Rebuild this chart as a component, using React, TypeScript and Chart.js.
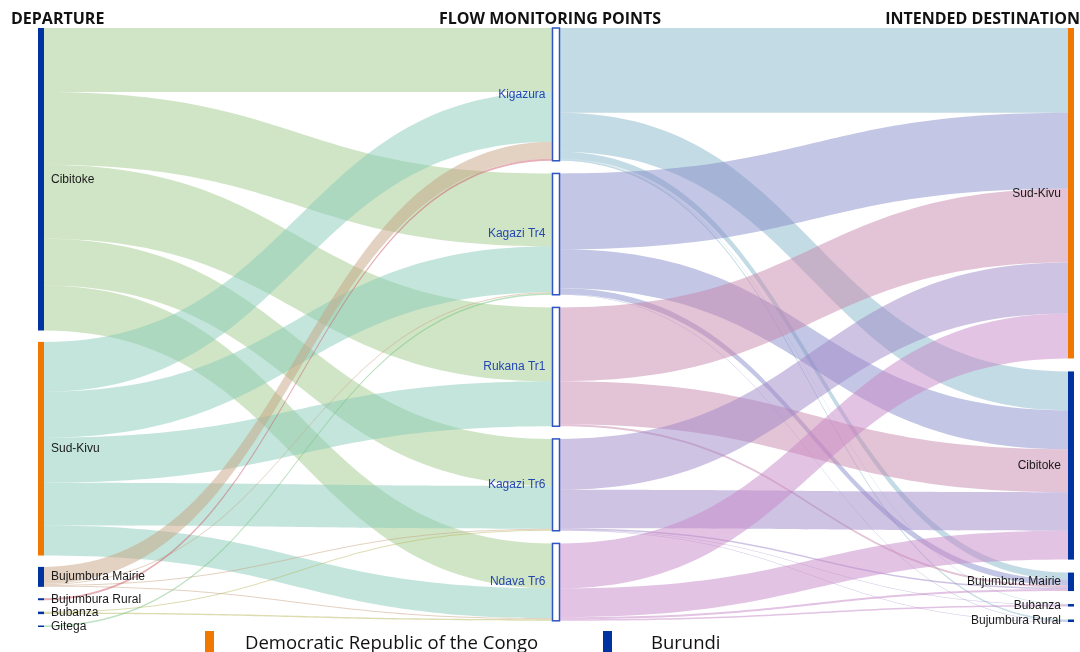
import React, { useEffect, useRef } from "react";
import { Chart, registerables } from "chart.js";

Chart.register(...registerables);

// ---------- DATA ----------
const columnTitles = ["DEPARTURE", "FLOW MONITORING POINTS", "INTENDED DESTINATION"];

const departureNodes = ["Cibitoke", "Sud-Kivu", "Bujumbura Mairie", "Bujumbura Rural", "Bubanza", "Gitega"];
const departureCountry = ["BDI", "COD", "BDI", "BDI", "BDI", "BDI"];

const monitoringPoints = ["Kigazura", "Kagazi Tr4", "Rukana Tr1", "Kagazi Tr6", "Ndava Tr6"];

const destinationNodes = ["Sud-Kivu", "Cibitoke", "Bujumbura Mairie", "Bubanza", "Bujumbura Rural"];
const destinationCountry = ["COD", "BDI", "BDI", "BDI", "BDI"];

// departure -> monitoring point
const inflowFrom = [0, 0, 0, 0, 0, 1, 1, 1, 1, 1, 2, 2, 2, 2, 3, 4, 4, 5];
const inflowTo = [0, 1, 2, 3, 4, 0, 1, 2, 3, 4, 0, 1, 3, 4, 0, 3, 4, 1];
const inflowValue = [64, 73, 74, 47, 45, 50, 46, 45, 43, 30, 17, 1, 1, 1, 2, 1, 1.5, 1.5];

// monitoring point -> destination
const outflowFrom = [0, 0, 0, 0, 0, 1, 1, 1, 1, 2, 2, 2, 3, 3, 3, 3, 3, 4, 4, 4, 4];
const outflowTo = [0, 1, 2, 3, 4, 0, 1, 2, 4, 0, 1, 2, 0, 1, 2, 3, 4, 0, 1, 2, 3];
const outflowValue = [85, 39, 7, 0.5, 1.5, 76, 39, 6, 0.5, 74, 43, 2, 51, 38.5, 1.5, 0.5, 0.5, 45, 29, 2, 1.5];

const legendCodes = ["COD", "BDI"];
const legendLabels = ["Democratic Republic of the Congo", "Burundi"];

// ---------- STYLE ----------
const countryColors: Record<string, string> = { COD: "#f07800", BDI: "#0033a0" };
const departureLinkColors = [
  "rgba(161,203,139,0.5)",
  "rgba(135,203,185,0.5)",
  "rgba(199,163,131,0.5)",
  "rgba(205,95,110,0.5)",
  "rgba(185,185,100,0.5)",
  "rgba(120,195,130,0.5)",
];
const pointLinkColors = [
  "rgba(135,183,201,0.5)",
  "rgba(135,141,201,0.5)",
  "rgba(199,135,173,0.5)",
  "rgba(159,135,201,0.5)",
  "rgba(199,135,199,0.5)",
];
const columnGap = [11.4, 12.7, 13];
const nodeHalfWidth = [3, 3.5, 3];

const sankeyPlugin = {
  id: "sankeyDraw",
  afterDraw(chart: any) {
    const ctx: CanvasRenderingContext2D = chart.ctx;
    const xs = chart.scales.x;
    const ys = chart.scales.y;
    const columns = [departureNodes, monitoringPoints, destinationNodes];
    const linkSets = [
      { from: inflowFrom, to: inflowTo, value: inflowValue, col: 0, colors: departureLinkColors },
      { from: outflowFrom, to: outflowTo, value: outflowValue, col: 1, colors: pointLinkColors },
    ];
    const nodeIn = columns.map((c) => c.map(() => 0));
    const nodeOut = columns.map((c) => c.map(() => 0));
    linkSets.forEach((ls) => {
      ls.value.forEach((v, i) => {
        nodeOut[ls.col][ls.from[i]] += v;
        nodeIn[ls.col + 1][ls.to[i]] += v;
      });
    });
    const nodeVal = columns.map((c, ci) => c.map((_, i) => Math.max(nodeIn[ci][i], nodeOut[ci][i])));
    const nodeTop = columns.map((c, ci) => {
      let acc = 0;
      return c.map((_, i) => {
        const t = acc;
        acc += nodeVal[ci][i] + columnGap[ci];
        return t;
      });
    });
    const xc = columns.map((_, ci) => xs.getPixelForValue(ci));

    // links
    linkSets.forEach((ls) => {
      const n = ls.value.length;
      const idx = Array.from({ length: n }, (_, i) => i);
      const srcOff: number[] = new Array(n).fill(0);
      const tgtOff: number[] = new Array(n).fill(0);
      const srcAcc: Record<number, number> = {};
      [...idx].sort((a, b) => ls.from[a] - ls.from[b] || ls.to[a] - ls.to[b]).forEach((i) => {
        const s = ls.from[i];
        srcAcc[s] = srcAcc[s] || 0;
        srcOff[i] = srcAcc[s];
        srcAcc[s] += ls.value[i];
      });
      const tgtAcc: Record<number, number> = {};
      [...idx].sort((a, b) => ls.to[a] - ls.to[b] || ls.from[a] - ls.from[b]).forEach((i) => {
        const t = ls.to[i];
        tgtAcc[t] = tgtAcc[t] || 0;
        tgtOff[i] = tgtAcc[t];
        tgtAcc[t] += ls.value[i];
      });
      const c0 = ls.col;
      const c1 = ls.col + 1;
      const x0 = xc[c0] + nodeHalfWidth[c0];
      const x1 = xc[c1] - nodeHalfWidth[c1];
      const xm = (x0 + x1) / 2;
      idx.forEach((i) => {
        const s0 = nodeTop[c0][ls.from[i]] + srcOff[i];
        const t0 = nodeTop[c1][ls.to[i]] + tgtOff[i];
        const v = ls.value[i];
        const ys0 = ys.getPixelForValue(s0);
        const ys1 = ys.getPixelForValue(s0 + v);
        const yt0 = ys.getPixelForValue(t0);
        const yt1 = ys.getPixelForValue(t0 + v);
        ctx.beginPath();
        ctx.moveTo(x0, ys0);
        ctx.bezierCurveTo(xm, ys0, xm, yt0, x1, yt0);
        ctx.lineTo(x1, yt1);
        ctx.bezierCurveTo(xm, yt1, xm, ys1, x0, ys1);
        ctx.closePath();
        ctx.fillStyle = ls.colors[ls.from[i]];
        ctx.fill();
      });
    });

    // nodes
    const countries = [departureCountry, null, destinationCountry];
    columns.forEach((c, ci) => {
      c.forEach((name, i) => {
        const top = ys.getPixelForValue(nodeTop[ci][i]);
        const bot = ys.getPixelForValue(nodeTop[ci][i] + nodeVal[ci][i]);
        const h = Math.max(bot - top, 1.5);
        const left = xc[ci] - nodeHalfWidth[ci];
        const w = nodeHalfWidth[ci] * 2;
        if (ci === 1) {
          ctx.fillStyle = "#ffffff";
          ctx.fillRect(left, top, w, h);
          ctx.strokeStyle = "#2f55c4";
          ctx.lineWidth = 1.5;
          ctx.strokeRect(left, top, w, h);
        } else {
          ctx.fillStyle = countryColors[(countries[ci] as string[])[i]];
          ctx.fillRect(left, top, w, h);
        }
        const cy = (top + bot) / 2;
        ctx.font = "12px 'Liberation Sans', Arial, sans-serif";
        ctx.textBaseline = "middle";
        if (ci === 0) {
          ctx.fillStyle = "#1a1a1a";
          ctx.textAlign = "left";
          ctx.fillText(name, left + w + 7, cy);
        } else if (ci === 1) {
          ctx.fillStyle = "#2448b2";
          ctx.textAlign = "right";
          ctx.fillText(name, left - 7, cy);
        } else {
          ctx.fillStyle = "#1a1a1a";
          ctx.textAlign = "right";
          ctx.fillText(name, left - 7, cy);
        }
      });
    });

    // column titles
    ctx.fillStyle = "#111111";
    ctx.font = "bold 16px 'Open Sans', sans-serif";
    ctx.textBaseline = "alphabetic";
    ctx.textAlign = "left";
    ctx.fillText(columnTitles[0], 11, 24);
    ctx.textAlign = "center";
    ctx.fillText(columnTitles[1], 550, 24);
    ctx.textAlign = "right";
    ctx.fillText(columnTitles[2], 1080, 24);

    // legend
    const legendX = [205, 603];
    const legendTextX = [245, 651];
    legendCodes.forEach((code, i) => {
      ctx.fillStyle = countryColors[code];
      ctx.fillRect(legendX[i], 631, 9, 22);
      ctx.fillStyle = "#111111";
      ctx.font = "18.5px 'Open Sans', sans-serif";
      ctx.textAlign = "left";
      ctx.textBaseline = "alphabetic";
      ctx.fillText(legendLabels[i], legendTextX[i], 649);
    });
  },
};

export default function App() {
  const canvasRef = useRef<HTMLCanvasElement | null>(null);
  useEffect(() => {
    const canvas = canvasRef.current;
    if (!canvas) return;
    const chart = new Chart(canvas, {
      type: "scatter",
      data: { datasets: [] },
      options: {
        animation: false,
        responsive: false,
        devicePixelRatio: 1,
        layout: { padding: { left: 41, right: 9, top: 28, bottom: 25 } },
        scales: {
          x: { type: "linear", min: 0, max: 2, display: false },
          y: { type: "linear", min: 0, max: 600, reverse: true, display: false },
        },
        plugins: { legend: { display: false }, tooltip: { enabled: false } },
      },
      plugins: [sankeyPlugin],
    } as any);
    return () => chart.destroy();
  }, []);
  return (
    <div style={{ position: "absolute", left: 0, top: 0, width: 1080, height: 652, background: "#fff" }}>
      <canvas ref={canvasRef} width={1080} height={652} style={{ width: 1080, height: 652 }} />
    </div>
  );
}
